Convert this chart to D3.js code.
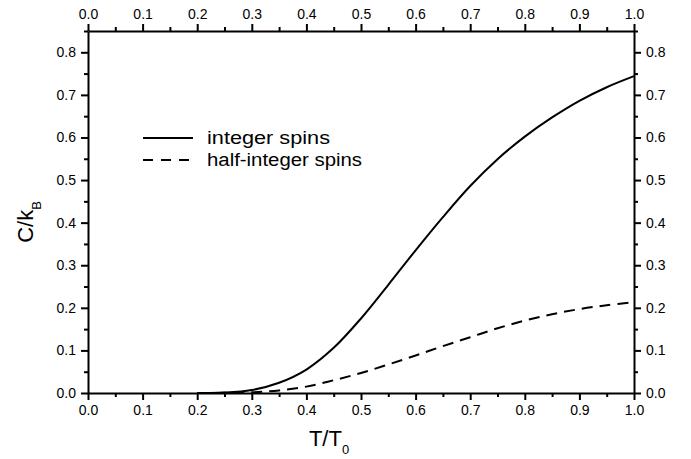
<!DOCTYPE html>
<html>
<head>
<meta charset="utf-8">
<script src="https://cdn.jsdelivr.net/npm/d3@7"></script>
<style>
  html, body { margin: 0; padding: 0; background: #fff; }
  svg { display: block; font-family: "Liberation Sans", Arial, sans-serif; }
  .tick text { font-size: 14px; fill: #000; }
</style>
</head>
<body>
<div id="chart"></div>
<script>
// T/T0 sample points and heat capacity
const tempRatio = [0.2, 0.25, 0.3, 0.35, 0.4, 0.45, 0.5, 0.55, 0.6, 0.65, 0.7, 0.75, 0.8, 0.85, 0.9, 0.95, 1.0];
const integerSpins = [0.0, 0.001, 0.007, 0.024, 0.055, 0.106, 0.175, 0.254, 0.335, 0.413, 0.486, 0.549, 0.602, 0.647, 0.686, 0.718, 0.744];
const halfIntegerSpins = [0.0, 0.0003, 0.0015, 0.006, 0.015, 0.030, 0.047, 0.067, 0.088, 0.110, 0.131, 0.152, 0.170, 0.185, 0.197, 0.206, 0.213];
const seriesNames = ["integer spins", "half-integer spins"];
const xMajor = [0, 0.1, 0.2, 0.3, 0.4, 0.5, 0.6, 0.7, 0.8, 0.9, 1.0];
const yMajor = [0, 0.1, 0.2, 0.3, 0.4, 0.5, 0.6, 0.7, 0.8];

const W = 691, H = 459;
const plot = {left: 88, right: 634, top: 31, bottom: 393};

const svg = d3.select("#chart").append("svg")
    .attr("width", W)
    .attr("height", H);

const x = d3.scaleLinear().domain([0, 1]).range([plot.left, plot.right]);
const y = d3.scaleLinear().domain([0, 0.85]).range([plot.bottom, plot.top]);

const xMinor = xMajor.slice(0, -1).map(v => v + 0.05);
const yMinor = yMajor.map(v => v + 0.05);
const fmt = d3.format(".1f");

function drawAxis(axisFn, scale, transform, labels) {
    // minor ticks first, then major ticks with labels
    svg.append("g")
        .attr("transform", transform)
        .call(axisFn(scale).tickValues(labels === "x" ? xMinor : yMinor).tickFormat("").tickSize(4).tickSizeOuter(0))
        .call(g => g.select(".domain").remove())
        .call(g => g.selectAll("line").attr("stroke-width", 2));
    svg.append("g")
        .attr("transform", transform)
        .call(axisFn(scale).tickValues(labels === "x" ? xMajor : yMajor).tickFormat(fmt).tickSize(7).tickSizeOuter(0).tickPadding(5))
        .call(g => g.select(".domain").attr("stroke-width", 2))
        .call(g => g.selectAll("line").attr("stroke-width", 2))
        .call(g => g.selectAll("text").attr("font-family", null).attr("font-size", null));
}

drawAxis(d3.axisBottom, x, `translate(0,${plot.bottom})`, "x");
drawAxis(d3.axisTop, x, `translate(0,${plot.top})`, "x");
drawAxis(d3.axisLeft, y, `translate(${plot.left},0)`, "y");
drawAxis(d3.axisRight, y, `translate(${plot.right},0)`, "y");

// curves
const line = d3.line()
    .x((d, i) => x(tempRatio[i]))
    .y(d => y(d))
    .curve(d3.curveCatmullRom.alpha(0.5));

svg.append("path")
    .datum(integerSpins)
    .attr("fill", "none")
    .attr("stroke", "#000")
    .attr("stroke-width", 2)
    .attr("d", line);

svg.append("path")
    .datum(halfIntegerSpins)
    .attr("fill", "none")
    .attr("stroke", "#000")
    .attr("stroke-width", 2)
    .attr("stroke-dasharray", "11,7")
    .attr("d", line);

// legend
const legend = svg.append("g");
const legendWidths = [123, 155];
seriesNames.forEach((name, i) => {
    const ly = 138 + i * 22;
    legend.append("line")
        .attr("x1", 143).attr("x2", 193)
        .attr("y1", ly).attr("y2", ly)
        .attr("stroke", "#000")
        .attr("stroke-width", 2)
        .attr("stroke-dasharray", i === 1 ? "10,8" : null);
    legend.append("text")
        .attr("x", 207)
        .attr("y", ly + 6)
        .attr("font-size", 18)
        .attr("textLength", legendWidths[i])
        .attr("lengthAdjust", "spacingAndGlyphs")
        .text(name);
});

// axis titles
const xt = svg.append("text")
    .attr("x", 329)
    .attr("y", 446)
    .attr("text-anchor", "middle")
    .attr("font-size", 22);
xt.append("tspan").text("T/T");
xt.append("tspan").attr("font-size", 13).attr("dy", 8).text("0");

const yt = svg.append("text")
    .attr("transform", "translate(33,222) rotate(-90)")
    .attr("text-anchor", "middle")
    .attr("font-size", 22);
yt.append("tspan").text("C/k");
yt.append("tspan").attr("font-size", 13).attr("dy", 8).text("B");
</script>
</body>
</html>
